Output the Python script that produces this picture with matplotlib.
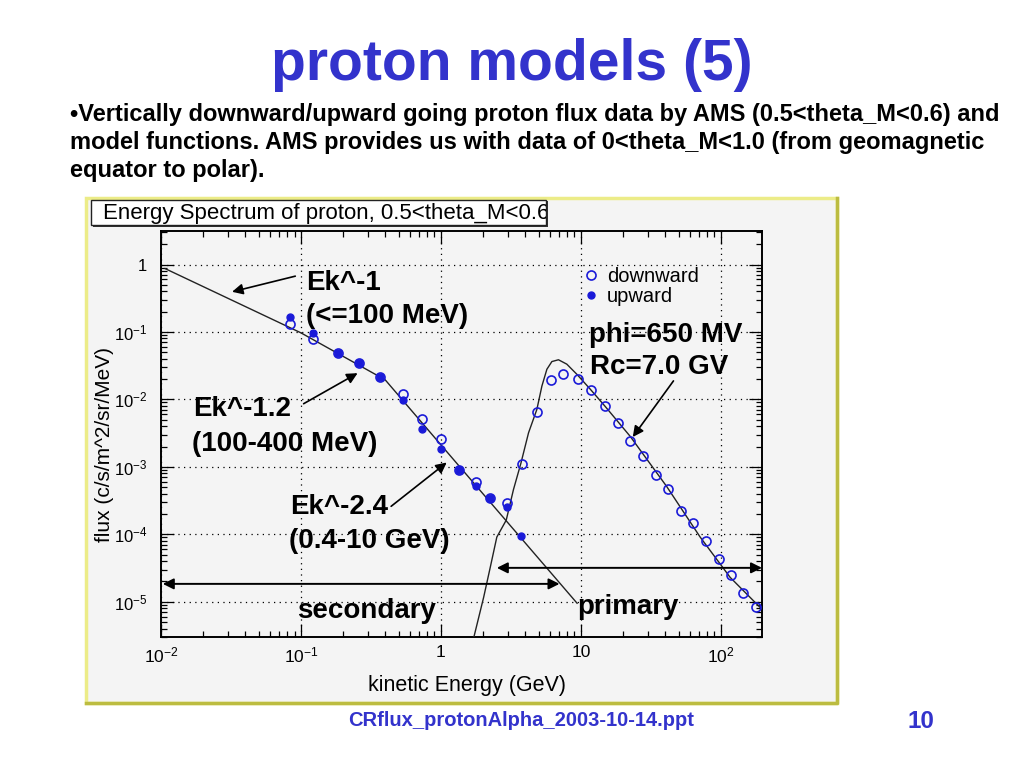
import matplotlib
matplotlib.use('Agg')
import matplotlib.pyplot as plt
from matplotlib.patches import Rectangle
from matplotlib.lines import Line2D
from matplotlib.ticker import LogLocator, FixedLocator, FuncFormatter, NullFormatter

# ---------------- data ----------------
energy_down = [0.084, 0.122, 0.184, 0.262, 0.369, 0.532, 0.731, 1.0, 1.34, 1.77,
               2.25, 2.96, 3.79, 4.85, 6.1, 7.5, 9.47, 11.8, 14.9, 18.3,
               22.5, 28, 34.4, 42.3, 51.8, 63.8, 78.6, 97.2, 118, 145, 179]
flux_down = [0.13, 0.0788, 0.0495, 0.0344, 0.0214, 0.0121, 0.00518, 0.0026, 8.9e-4, 6.0e-4,
             3.5e-4, 2.95e-4, 1.1e-3, 6.5e-3, 0.0195, 0.0242, 0.0204, 0.0136, 0.0079, 0.0045,
             0.00245, 0.00143, 7.6e-4, 4.7e-4, 2.22e-4, 1.49e-4, 8.0e-5, 4.3e-5, 2.45e-5, 1.33e-5, 8.4e-6]

energy_up = [0.084, 0.122, 0.184, 0.262, 0.369, 0.532, 0.731, 1.0, 1.34, 1.77, 2.25, 2.96, 3.73]
flux_up = [0.169, 0.0955, 0.0495, 0.0344, 0.0214, 0.0099, 0.00369, 0.00186, 9.1e-4, 5.2e-4,
           3.5e-4, 2.57e-4, 9.3e-5]

# model lines (vertices)
secondary_E = [0.0107, 0.1, 0.4, 1.0, 9.4]
secondary_F = [0.87, 0.097, 0.0195, 0.00212, 9.5e-6]

primary_E = [1.70, 2.02, 2.25, 2.51, 2.93, 3.3, 3.73, 4.23, 4.85, 5.27, 5.72, 6.21, 6.92,
             7.94, 9.36, 11.7, 14.9, 22.5, 41.1, 71.2, 116.6, 196]
primary_F = [2.7e-6, 1.16e-5, 3.2e-5, 9.1e-5, 1.62e-4, 4.6e-4, 1.13e-3, 3.2e-3, 7.1e-3, 0.0158,
             0.028, 0.0364, 0.0387, 0.0333, 0.0236, 0.0141, 0.0079, 0.00284, 5.1e-4, 9.1e-5,
             2.3e-5, 7.8e-6]

x_ticks = [0.01, 0.1, 1, 10, 100]
x_tick_labels = [r'$\mathregular{10^{-2}}$', r'$\mathregular{10^{-1}}$', '1', '10', r'$\mathregular{10^{2}}$']
y_ticks = [1e-5, 1e-4, 1e-3, 1e-2, 1e-1, 1]
y_tick_labels = [r'$\mathregular{10^{-5}}$', r'$\mathregular{10^{-4}}$', r'$\mathregular{10^{-3}}$',
                 r'$\mathregular{10^{-2}}$', r'$\mathregular{10^{-1}}$', '1']

title = 'proton models (5)'
bullet_lines = ['\u2022Vertically downward/upward going proton flux data by AMS (0.5<theta_M<0.6) and',
                'model functions. AMS provides us with data of 0<theta_M<1.0 (from geomagnetic',
                'equator to polar).']
plot_title = 'Energy Spectrum of proton, 0.5<theta_M<0.6'
footer = 'CRflux_protonAlpha_2003-10-14.ppt'
page = '10'

# ---------------- style ----------------
plt.rcParams['font.family'] = ['Liberation Sans', 'DejaVu Sans']
plt.rcParams['mathtext.fontset'] = 'custom'
plt.rcParams['mathtext.rm'] = 'Liberation Sans'
plt.rcParams['mathtext.it'] = 'Liberation Sans:italic'
plt.rcParams['mathtext.bf'] = 'Liberation Sans:bold'

W, H = 1024, 768
fig = plt.figure(figsize=(10.24, 7.68), dpi=100)
fig.patch.set_facecolor('white')


def fx(x):
    return x / W


def fy(y):
    return 1 - y / H


blue_title = '#3333cc'
mark_blue = '#1a1ad8'

# slide text
fig.text(fx(512), fy(80), title, ha='center', va='baseline', fontsize=41,
         fontweight='bold', color=blue_title)
for i, line in enumerate(bullet_lines):
    fig.text(fx(70), fy(120.5 + 28.5 * i), line, ha='left', va='baseline', fontsize=17,
             fontweight='bold', color='black')
fig.text(fx(521), fy(720), footer, ha='center', va='center', fontsize=14.5,
         fontweight='bold', color=blue_title)
fig.text(fx(921), fy(721), page, ha='center', va='center', fontsize=17.5,
         fontweight='bold', color=blue_title)

# picture panel
fig.add_artist(Rectangle((fx(86), fy(703)), (837 - 86) / W, (703 - 198) / H,
                         transform=fig.transFigure, facecolor='#f4f4f4',
                         edgecolor='#ecec88', lw=2.5, zorder=0))
fig.add_artist(Line2D([fx(837), fx(837), fx(86)], [fy(198), fy(703), fy(703)],
                      color='#bcbc40', lw=2.5, zorder=0.5))

# title box with shadow
fig.add_artist(Rectangle((fx(93), fy(227)), (548 - 93) / W, (227 - 201) / H,
                         transform=fig.transFigure, facecolor='#333333',
                         edgecolor='none', zorder=1))
tb = Rectangle((fx(91), fy(225)), (546 - 91) / W, (225 - 200) / H,
               transform=fig.transFigure, facecolor='white',
               edgecolor='#222222', lw=1, zorder=2)
fig.add_artist(tb)
t = fig.text(fx(103), fy(213), plot_title, ha='left', va='center', fontsize=16,
             color='black', zorder=3)
t.set_clip_path(tb)

# ---------------- axes ----------------
ax = fig.add_axes([fx(161), fy(637), (762 - 161) / W, (637 - 231) / H])
ax.set_facecolor('#f4f4f4')
ax.set_xscale('log')
ax.set_yscale('log')
ax.set_xlim(0.01, 197)
ax.set_ylim(3.0e-6, 3.14)

ax.plot(secondary_E, secondary_F, color='#222222', lw=1.0, zorder=3)
ax.plot(primary_E, primary_F, color='#222222', lw=1.0, zorder=3)
h_down, = ax.plot(energy_down, flux_down, linestyle='none', marker='o', markersize=6.5,
                  markerfacecolor='none', markeredgecolor=mark_blue, markeredgewidth=1.2,
                  zorder=4, label='downward')
h_up, = ax.plot(energy_up, flux_up, linestyle='none', marker='o', markersize=5,
                markerfacecolor=mark_blue, markeredgecolor=mark_blue, zorder=5,
                label='upward')

ax.xaxis.set_major_locator(FixedLocator(x_ticks))
ax.xaxis.set_major_formatter(FuncFormatter(lambda v, p: x_tick_labels[x_ticks.index(v)] if v in x_ticks else ''))
ax.xaxis.set_minor_locator(LogLocator(base=10, subs=range(2, 10), numticks=20))
ax.xaxis.set_minor_formatter(NullFormatter())
ax.yaxis.set_major_locator(FixedLocator(y_ticks))
ax.yaxis.set_major_formatter(FuncFormatter(lambda v, p: y_tick_labels[y_ticks.index(v)] if v in y_ticks else ''))
ax.yaxis.set_minor_locator(LogLocator(base=10, subs=range(2, 10), numticks=20))
ax.yaxis.set_minor_formatter(NullFormatter())

ax.tick_params(which='both', direction='in', top=True, right=True, width=0.9, color='black')
ax.tick_params(which='major', length=9.5)
ax.tick_params(which='minor', length=4.5)
ax.tick_params(axis='x', which='major', labelsize=12.5, pad=6)
ax.tick_params(axis='y', which='major', labelsize=12, pad=10)
for s in ax.spines.values():
    s.set_linewidth(1.4)
    s.set_color('black')
ax.grid(True, which='major', linestyle=(0, (1, 3.5)), color='black', lw=0.9)

fig.text(fx(467), fy(685), 'kinetic Energy (GeV)', ha='center', va='center', fontsize=15.5)
fig.text(fx(104), fy(444), 'flux (c/s/m^2/sr/MeV)', ha='center', va='center',
         fontsize=15, rotation=90)

ax.legend(handles=[h_down, h_up], loc='upper left', bbox_to_anchor=(fx(584), fy(267)),
          bbox_transform=fig.transFigure, frameon=False, fontsize=14.5,
          handlelength=0.7, handletextpad=0.45, labelspacing=0.05, borderpad=0,
          borderaxespad=0)

# ---------------- annotations ----------------
arrow = dict(arrowstyle='-|>', color='black', lw=1.2, mutation_scale=16,
             shrinkA=0, shrinkB=0)
darrow = dict(arrowstyle='<|-|>', color='black', lw=1.4, mutation_scale=16,
              shrinkA=0, shrinkB=0)

ax.annotate('', xy=(0.0322, 0.394), xytext=(0.0911, 0.672), arrowprops=arrow)
ax.annotate('', xy=(0.254, 0.0245), xytext=(0.1045, 0.00863), arrowprops=arrow)
ax.annotate('', xy=(1.10, 1.16e-3), xytext=(0.441, 2.6e-4), arrowprops=arrow)
ax.annotate('', xy=(23.5, 0.00277), xytext=(45.9, 0.0188), arrowprops=arrow)
ax.annotate('', xy=(7.04, 1.84e-5), xytext=(0.0103, 1.84e-5), arrowprops=darrow,
            annotation_clip=False)
ax.annotate('', xy=(2.51, 3.18e-5), xytext=(197, 3.18e-5), arrowprops=darrow,
            annotation_clip=False)

txt = dict(fontsize=20, fontweight='bold', color='black', ha='left', va='baseline')
fig.text(fx(306), fy(290), 'Ek^-1', **txt)
fig.text(fx(306), fy(323), '(<=100 MeV)', **txt)
fig.text(fx(589), fy(342), 'phi=650 MV', **txt)
fig.text(fx(590), fy(374), 'Rc=7.0 GV', **txt)
fig.text(fx(193), fy(416), 'Ek^-1.2', **txt)
fig.text(fx(192), fy(451), '(100-400 MeV)', **txt)
fig.text(fx(290), fy(514), 'Ek^-2.4', **txt)
fig.text(fx(289), fy(548), '(0.4-10 GeV)', **txt)
fig.text(fx(297), fy(618), 'secondary', **txt)
fig.text(fx(577), fy(614), 'primary', **txt)

fig.savefig('out.png', dpi=100, facecolor='white')
